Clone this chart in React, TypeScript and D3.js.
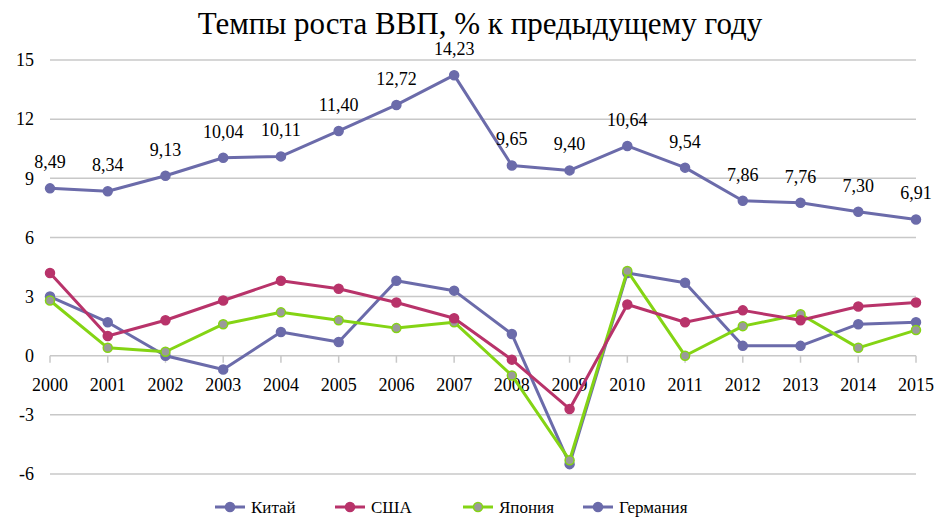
import React from 'react';
import * as d3 from 'd3';

const years = ['2000', '2001', '2002', '2003', '2004', '2005', '2006', '2007', '2008', '2009', '2010', '2011', '2012', '2013', '2014', '2015'];
const china = [8.49, 8.34, 9.13, 10.04, 10.11, 11.40, 12.72, 14.23, 9.65, 9.40, 10.64, 9.54, 7.86, 7.76, 7.30, 6.91];
const usa = [4.2, 1.0, 1.8, 2.8, 3.8, 3.4, 2.7, 1.9, -0.2, -2.7, 2.6, 1.7, 2.3, 1.8, 2.5, 2.7];
const japan = [2.8, 0.4, 0.2, 1.6, 2.2, 1.8, 1.4, 1.7, -1.0, -5.3, 4.3, -0.0, 1.5, 2.1, 0.4, 1.3];
const germany = [3.0, 1.7, 0.0, -0.7, 1.2, 0.7, 3.8, 3.3, 1.1, -5.5, 4.2, 3.7, 0.5, 0.5, 1.6, 1.7];
const yTicks = [-6, -3, 0, 3, 6, 9, 12, 15];

const series = [
  { name: 'Китай', values: china, color: '#6b6baa', marker: '#6b6baa' },
  { name: 'США', values: usa, color: '#b8336a', marker: '#b8336a' },
  { name: 'Япония', values: japan, color: '#84d414', marker: '#9a9a9a' },
  { name: 'Германия', values: germany, color: '#6b6baa', marker: '#6b6baa' },
];

const W = 935;
const H = 520;
const txt: React.CSSProperties = { fontFamily: "'Liberation Serif', 'Times New Roman', 'DejaVu Serif', serif" };

export default function App() {
  const x = d3.scalePoint<string>().domain(years).range([50, 916]);
  const y = d3.scaleLinear().domain([-6, 15]).range([474, 60]);
  const line = d3.line<number>()
    .x((_, i) => x(years[i]) as number)
    .y(d => y(d));

  const legendX = [215, 335, 463, 583];

  return (
    <svg width={W} height={H} style={{ position: 'absolute', left: 0, top: 0, background: '#fff' }}>
      <text x={480} y={34} textAnchor="middle" style={txt} fontSize={31} fill="#000">
        Темпы роста ВВП, % к предыдущему году
      </text>

      {yTicks.map(t => (
        <g key={t}>
          <line x1={50} x2={916} y1={y(t)} y2={y(t)} stroke="#c8c8c8" strokeWidth={1.5} />
          <text x={34} y={y(t)} dy="0.35em" textAnchor="end" style={txt} fontSize={18} fill="#000">
            {t}
          </text>
        </g>
      ))}

      {years.map(yr => (
        <g key={yr}>
          <line x1={x(yr)} x2={x(yr)} y1={y(0)} y2={y(0) + 7} stroke="#c8c8c8" strokeWidth={1.5} />
          <text x={x(yr)} y={y(0) + 35} textAnchor="middle" style={txt} fontSize={18} fill="#000">
            {yr}
          </text>
        </g>
      ))}

      {series.slice().reverse().map(s => (
        <g key={s.name}>
          <path d={line(s.values) || ''} fill="none" stroke={s.color} strokeWidth={3} strokeLinejoin="round" />
          {s.values.map((v, i) => (
            <circle key={i} cx={x(years[i])} cy={y(v)} r={4.5} fill={s.marker} stroke={s.color} strokeWidth={1.5} />
          ))}
        </g>
      ))}

      {china.map((v, i) => (
        <text key={i} x={x(years[i])} y={y(v) - 20} textAnchor="middle" style={txt} fontSize={18} fill="#000">
          {v.toFixed(2).replace('.', ',')}
        </text>
      ))}

      {series.map((s, i) => (
        <g key={s.name} transform={`translate(${legendX[i]},507)`}>
          <line x1={0} x2={30} y1={0} y2={0} stroke={s.color} strokeWidth={3} />
          <circle cx={15} cy={0} r={4.5} fill={s.marker} stroke={s.color} strokeWidth={1.5} />
          <text x={36} y={0} dy="0.35em" style={txt} fontSize={17} fill="#000">
            {s.name}
          </text>
        </g>
      ))}
    </svg>
  );
}
